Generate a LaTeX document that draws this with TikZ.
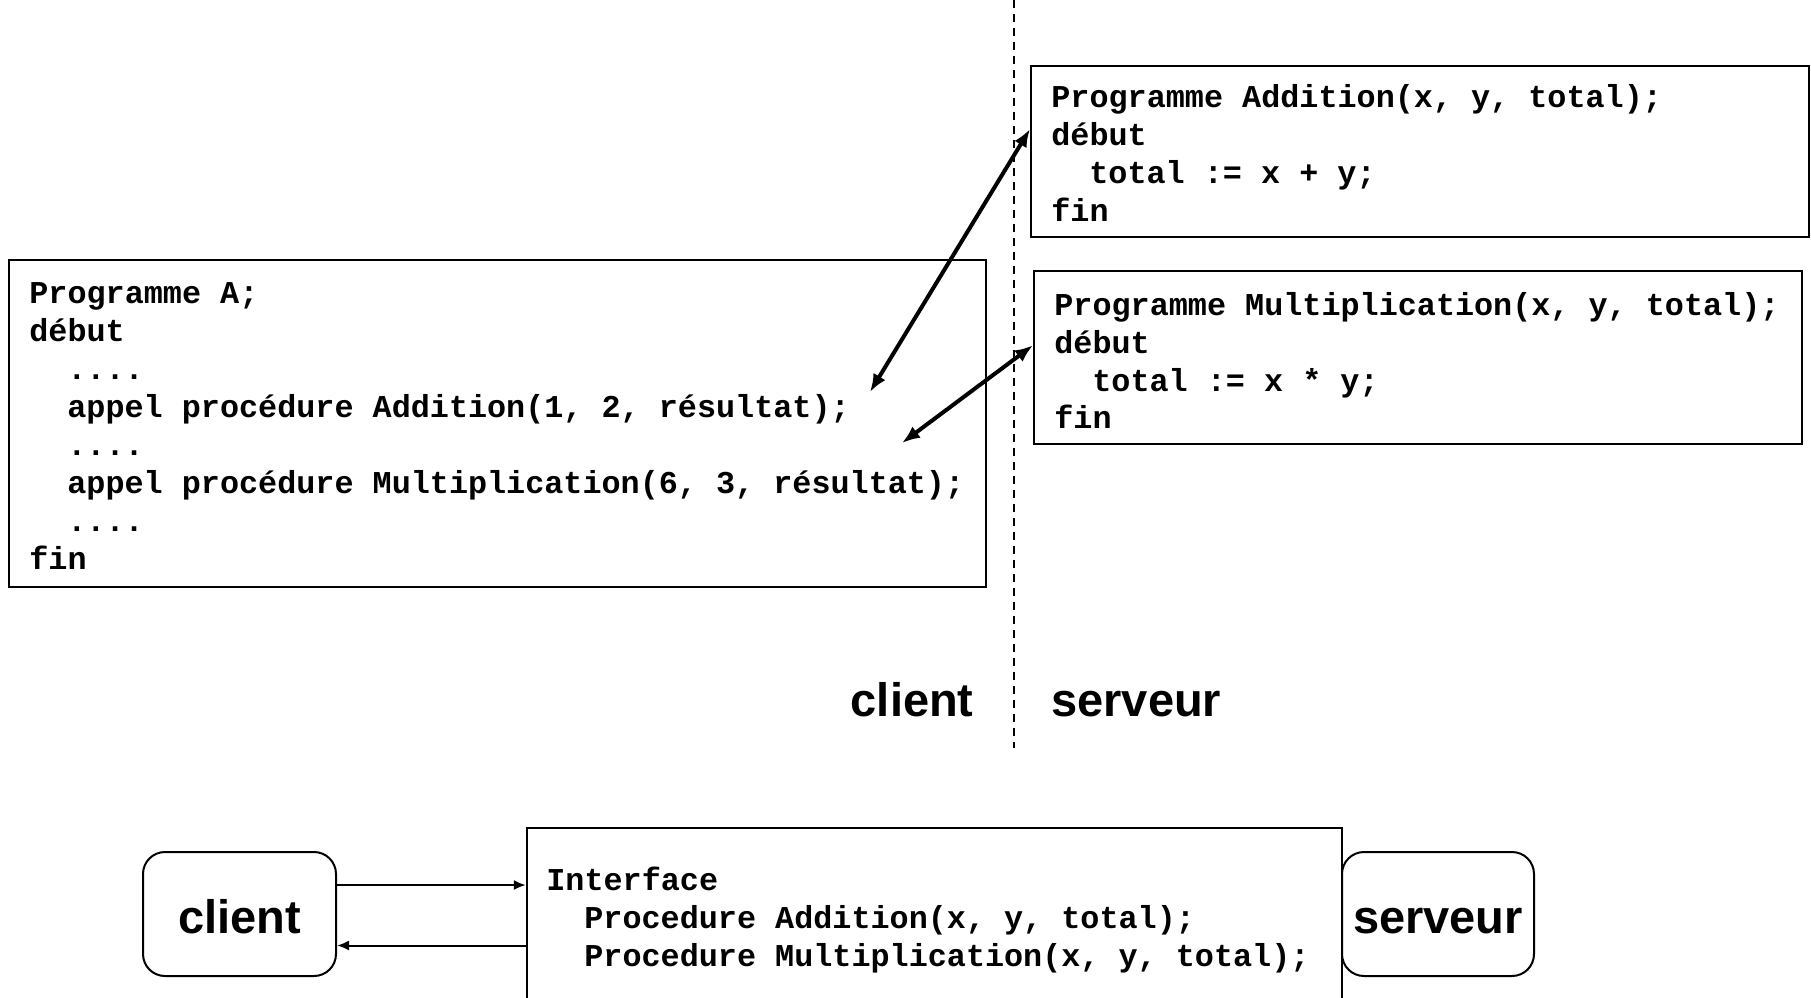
\documentclass[tikz,border=0pt]{standalone}
\usepackage{fontspec}
\setmainfont{Liberation Sans}
\newfontfamily\codefont{Liberation Mono}
\usetikzlibrary{arrows.meta,calc,fit}
\begin{document}
\begin{tikzpicture}[x=0.5pt,y=-0.5pt,
  box/.style={draw,line width=1pt,inner sep=0pt},
  rbox/.style={draw,line width=1pt,rounded corners=11pt,inner sep=0pt},
  code/.style={anchor=base west,inner sep=0pt,font=\codefont\bfseries\fontsize{15.9}{19}\selectfont},
  lbl/.style={inner sep=0pt,font=\bfseries\fontsize{23.5}{28}\selectfont},
  bigarrow/.style={{Latex[length=9pt,width=7pt]}-{Latex[length=9pt,width=7pt]},line width=2pt},
  smallarrow/.style={-{Latex[length=6pt,width=5pt]},line width=1pt},
  sep/.style={dash pattern=on 4pt off 3pt,line width=1pt}]
\useasboundingbox (0,0) rectangle (1811,997);
\clip (0,0) rectangle (1811,997);
\fill[white] (0,0) rectangle (1811,997);

% separator
\coordinate (septop) at (1014,0);
\coordinate (sepbot) at (1014,748);
\draw[sep] (septop) -- (sepbot);
\node[lbl,anchor=base east] (clientlbl) at (974,716) {client};
\node[lbl,anchor=base west] (serveurlbl) at (1051,716) {serveur};

% Programme A
\node[box,fit={(9,260)(986,587)}] (progA) {};
\node[code] (a1) at (29,303) {Programme A;};
\node[code] (a2) at (29,341) {début};
\node[code] (a3) at (67,379) {....};
\node[code] (a4) at (67,417) {appel procédure Addition(1, 2, résultat);};
\node[code] (a5) at (67,455) {....};
\node[code] (a6) at (67,493) {appel procédure Multiplication(6, 3, résultat);};
\node[code] (a7) at (67,531) {....};
\node[code] (a8) at (29,569) {fin};

% Addition
\node[box,fit={(1031,66)(1809,237)}] (addbox) {};
\node[code] (b1) at (1051,107) {Programme Addition(x, y, total);};
\node[code] (b2) at (1051,145) {début};
\node[code] (b3) at (1089,183) {total := x + y;};
\node[code] (b4) at (1051,221) {fin};

% Multiplication
\node[box,fit={(1034,271)(1802,444)}] (mulbox) {};
\node[code] (c1) at (1054,315) {Programme Multiplication(x, y, total);};
\node[code] (c2) at (1054,353) {début};
\node[code] (c3) at (1092,391) {total := x * y;};
\node[code] (c4) at (1054,428) {fin};

% call arrows
\coordinate (calladd) at (870,392);
\coordinate (callmul) at (902,443);
\draw[bigarrow] (calladd) -- ($(addbox.north west)!0.37!(addbox.south west)$);
\draw[bigarrow] (callmul) -- ($(mulbox.north west)!0.43!(mulbox.south west)$);

% bottom diagram
\node[rbox,fit={(143,852)(336,976)}] (clientbox) {};
\node[lbl,anchor=base] (clienttxt) at (clientbox.center |- 0,933) {client};
\node[box,line width=1.2pt,fit={(527,828)(1342,1200)}] (iface) {};
\node[code] (i1) at (546,890) {Interface};
\node[code] (i2) at (584,928) {Procedure Addition(x, y, total);};
\node[code] (i3) at (584,966) {Procedure Multiplication(x, y, total);};
\node[rbox,fit={(1342,852)(1534,976)}] (servbox) {};
\node[lbl,anchor=base] (servtxt) at (servbox.center |- 0,933) {serveur};

\coordinate (cout) at ($(clientbox.north east)!0.27!(clientbox.south east)$);
\coordinate (cin) at ($(clientbox.north east)!0.75!(clientbox.south east)$);
\draw[smallarrow] (cout) -- (cout -| iface.west);
\draw[smallarrow] (cin -| iface.west) -- (cin);
\end{tikzpicture}
\end{document}
